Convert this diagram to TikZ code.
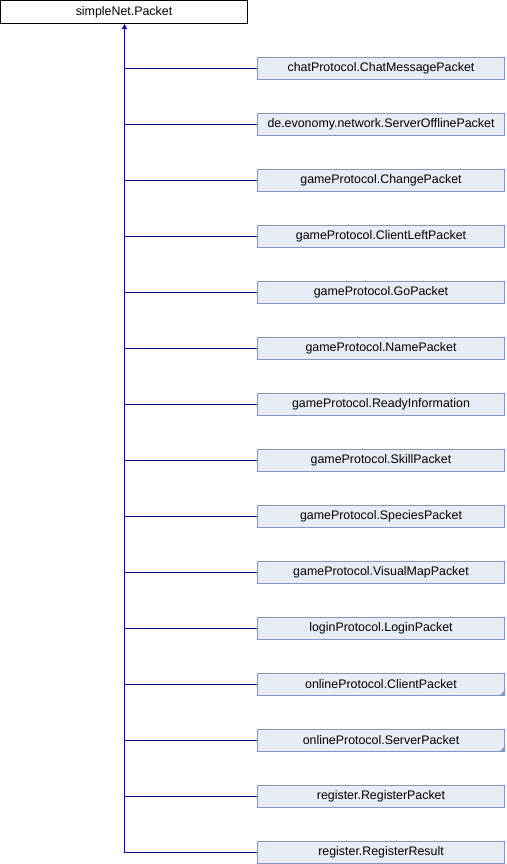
\documentclass[tikz,border=0pt]{standalone}
\usepackage{fontspec}
\setmainfont{Liberation Sans}
\usepackage{tikz}
\usetikzlibrary{arrows.meta,positioning}
\definecolor{edgeblue}{HTML}{0A0A98}
\definecolor{boxfill}{HTML}{E8ECF5}
\definecolor{boxdraw}{HTML}{8397CB}
\tikzstyle{basestyle}=[draw=black,fill=white,line width=1pt,minimum width=247pt,minimum height=23pt,inner sep=0pt,font=\fontsize{12.4}{14}\selectfont]
\tikzstyle{derivedstyle}=[draw=boxdraw,fill=boxfill,line width=1pt,minimum width=247pt,minimum height=22pt,inner sep=0pt,font=\fontsize{12.4}{14}\selectfont]

\begin{document}
\begin{tikzpicture}[x=1pt,y=1pt,node distance=56pt,on grid]
	\tikzstyle{inherit}=[draw=edgeblue,line width=1pt]
	\useasboundingbox (0,0) rectangle (506,864);

	\node[basestyle]	(packet) at (124,852) {simpleNet.Packet};
	\coordinate (trunk) at ([xshift=0.5pt]packet.south);

	\node[derivedstyle]	(chat) at (381,795.5) {chatProtocol.ChatMessagePacket};
	\node[derivedstyle]	(offline) [below=of chat] {de.evonomy.network.ServerOfflinePacket};
	\node[derivedstyle]	(change) [below=of offline] {gameProtocol.ChangePacket};
	\node[derivedstyle]	(left) [below=of change] {gameProtocol.ClientLeftPacket};
	\node[derivedstyle]	(go) [below=of left] {gameProtocol.GoPacket};
	\node[derivedstyle]	(name) [below=of go] {gameProtocol.NamePacket};
	\node[derivedstyle]	(ready) [below=of name] {gameProtocol.ReadyInformation};
	\node[derivedstyle]	(skill) [below=of ready] {gameProtocol.SkillPacket};
	\node[derivedstyle]	(species) [below=of skill] {gameProtocol.SpeciesPacket};
	\node[derivedstyle]	(visual) [below=of species] {gameProtocol.VisualMapPacket};
	\node[derivedstyle]	(login) [below=of visual] {loginProtocol.LoginPacket};
	\node[derivedstyle]	(client) [below=of login] {onlineProtocol.ClientPacket};
	\node[derivedstyle]	(server) [below=of client] {onlineProtocol.ServerPacket};
	\node[derivedstyle]	(regpacket) [below=of server] {register.RegisterPacket};
	\node[derivedstyle]	(regresult) [below=of regpacket] {register.RegisterResult};

	% marks for classes with more children
	\fill[boxdraw] (client.south east) -- ++(-6,0) -- ++(6,6) -- cycle;
	\fill[boxdraw] (server.south east) -- ++(-6,0) -- ++(6,6) -- cycle;

	\draw[inherit,-{Triangle[length=5pt,width=5pt]}] (regresult.west) -| (trunk);
	\foreach \c in {chat,offline,change,left,go,name,ready,skill,species,visual,login,client,server,regpacket}
		\draw[inherit] (\c.west) -- (\c.west -| trunk);
\end{tikzpicture}
\end{document}
